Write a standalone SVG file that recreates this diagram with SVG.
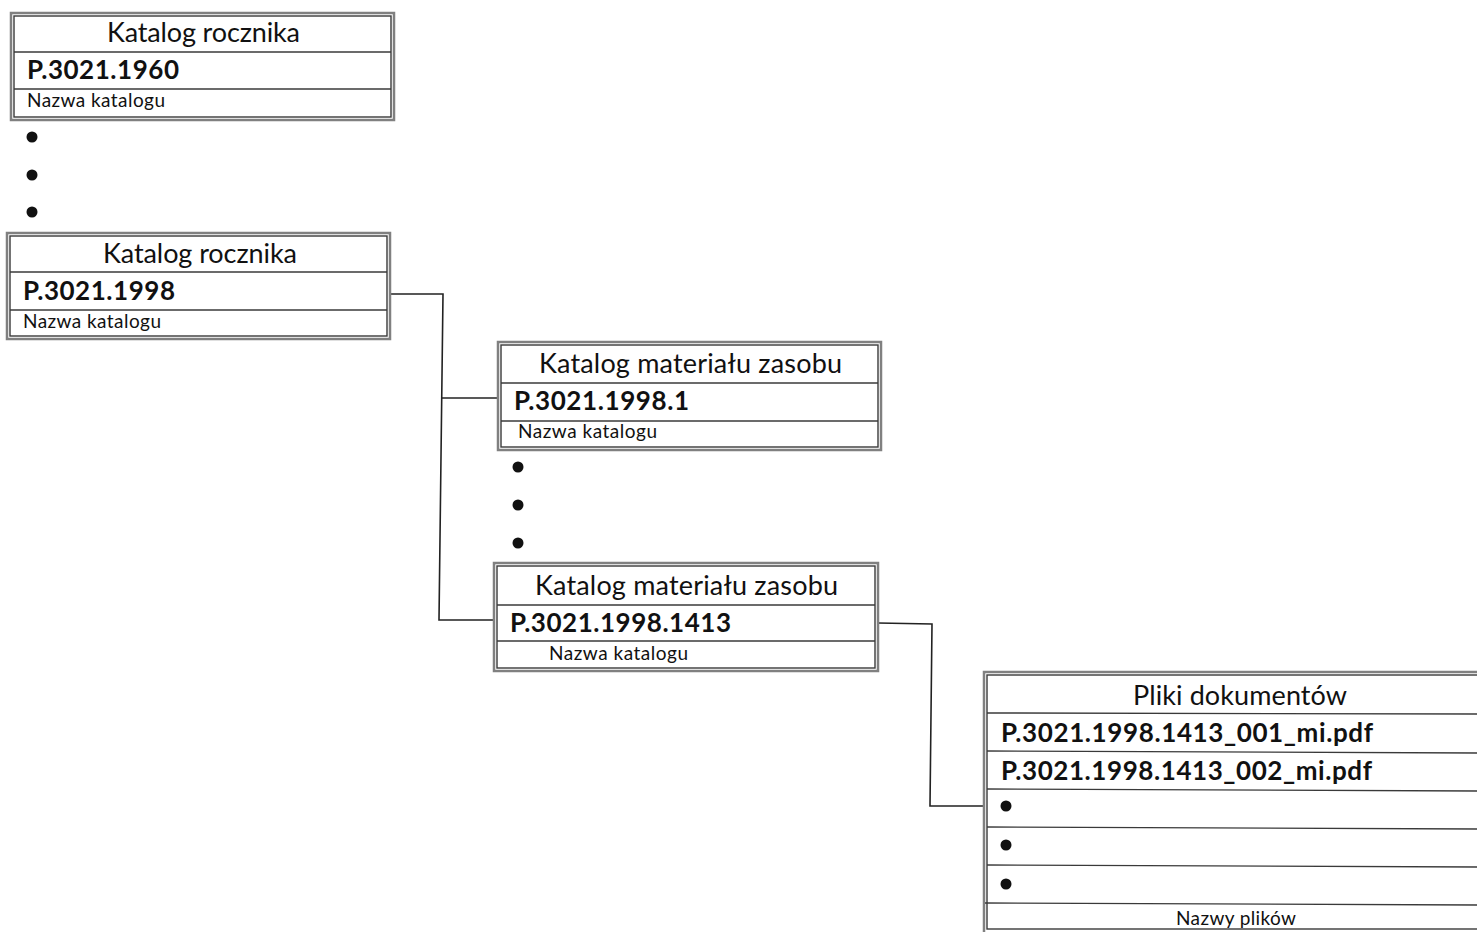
<svg xmlns="http://www.w3.org/2000/svg" width="1477" height="932" viewBox="0 0 1477 932">
<style>
.outer{fill:#fff;stroke:#808080;stroke-width:2.5}
.inner{fill:none;stroke:#3a3a3a;stroke-width:1.4}
.row{stroke:#3a3a3a;stroke-width:1.4}
.conn{fill:none;stroke:#222;stroke-width:1.6}
.h{font-family:Lato,"Open Sans","Liberation Sans",sans-serif;font-size:27px;fill:#111}
.b{font-family:Lato,"Open Sans","Liberation Sans",sans-serif;font-size:26px;font-weight:bold;fill:#111}
.s{font-family:Lato,"Open Sans","Liberation Sans",sans-serif;font-size:19px;fill:#111}
.dot{fill:#111}
</style>
<rect width="1477" height="932" fill="#fff"/>
<g id="connectors">
<polyline class="conn" points="390,294 443,294 439,620 494,620"/>
<line class="conn" x1="442" y1="398" x2="498" y2="398"/>
<polyline class="conn" points="878,623 932,624 930,806 984,806"/>
</g>
<g id="node-1960">
<rect class="outer" x="11" y="13" width="383" height="107"/>
<rect class="inner" x="14" y="16" width="377" height="101"/>
<line class="row" x1="14" y1="52" x2="391" y2="52"/>
<line class="row" x1="14" y1="89" x2="391" y2="89"/>
<text class="h" x="107" y="42" textLength="193">Katalog rocznika</text>
<text class="b" x="27" y="79" textLength="152">P.3021.1960</text>
<text class="s" x="27" y="107" textLength="138">Nazwa katalogu</text>
</g>
<g id="dots-1">
<circle class="dot" cx="32" cy="137" r="5.5"/>
<circle class="dot" cx="32" cy="175" r="5.5"/>
<circle class="dot" cx="32" cy="212" r="5.5"/>
</g>
<g id="node-1998">
<rect class="outer" x="7" y="233" width="383" height="106"/>
<rect class="inner" x="10" y="236" width="377" height="100"/>
<line class="row" x1="10" y1="272" x2="387" y2="272"/>
<line class="row" x1="10" y1="310" x2="387" y2="310"/>
<text class="h" x="103" y="263" textLength="194">Katalog rocznika</text>
<text class="b" x="23" y="300" textLength="152">P.3021.1998</text>
<text class="s" x="23" y="328" textLength="138">Nazwa katalogu</text>
</g>
<g id="node-1998-1">
<rect class="outer" x="498" y="342" width="383" height="108"/>
<rect class="inner" x="501" y="345" width="377" height="102"/>
<line class="row" x1="501" y1="383" x2="878" y2="383"/>
<line class="row" x1="501" y1="421" x2="878" y2="421"/>
<text class="h" x="539" y="373" textLength="303">Katalog materiału zasobu</text>
<text class="b" x="514" y="410" textLength="175">P.3021.1998.1</text>
<text class="s" x="518" y="438" textLength="139">Nazwa katalogu</text>
</g>
<g id="dots-2">
<circle class="dot" cx="518" cy="467" r="5.5"/>
<circle class="dot" cx="518" cy="505" r="5.5"/>
<circle class="dot" cx="518" cy="543" r="5.5"/>
</g>
<g id="node-1998-1413">
<rect class="outer" x="494" y="563" width="384" height="108"/>
<rect class="inner" x="497" y="566" width="378" height="102"/>
<line class="row" x1="497" y1="605" x2="875" y2="605"/>
<line class="row" x1="497" y1="641" x2="875" y2="641"/>
<text class="h" x="535" y="595" textLength="303">Katalog materiału zasobu</text>
<text class="b" x="510" y="632" textLength="221">P.3021.1998.1413</text>
<text class="s" x="549" y="660" textLength="139">Nazwa katalogu</text>
</g>
<g id="node-files">
<rect class="outer" x="984" y="672" width="500" height="265"/>
<rect class="inner" x="987" y="675" width="500" height="254"/>
<line class="row" x1="987" y1="713" x2="1477" y2="714"/>
<line class="row" x1="987" y1="751" x2="1477" y2="753"/>
<line class="row" x1="987" y1="789" x2="1477" y2="791"/>
<line class="row" x1="987" y1="827" x2="1477" y2="829"/>
<line class="row" x1="987" y1="865" x2="1477" y2="867"/>
<line class="row" x1="985" y1="903" x2="1477" y2="905"/>
<text class="h" x="1133" y="705" textLength="214">Pliki dokumentów</text>
<text class="b" x="1001" y="742" textLength="372">P.3021.1998.1413_001_mi.pdf</text>
<text class="b" x="1001" y="780" textLength="371">P.3021.1998.1413_002_mi.pdf</text>
<circle class="dot" cx="1006" cy="806" r="5.5"/>
<circle class="dot" cx="1006" cy="845" r="5.5"/>
<circle class="dot" cx="1006" cy="884" r="5.5"/>
<text class="s" x="1176" y="925" textLength="120">Nazwy plików</text>
</g>
</svg>
